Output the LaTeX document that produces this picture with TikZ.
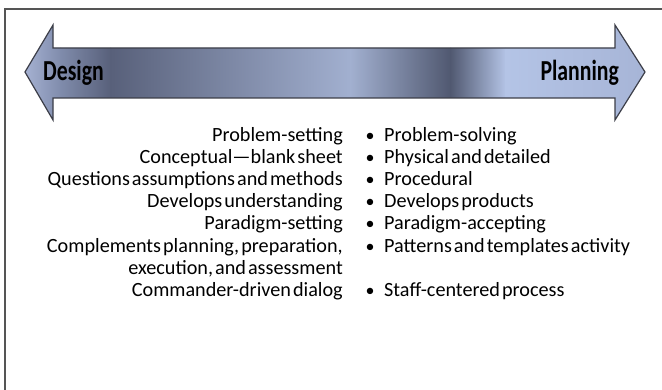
\documentclass[tikz,border=0pt]{standalone}
\usepackage{fontspec}
\setmainfont{Carlito}[WordSpace={0.45}]
\definecolor{cLight}{RGB}{170,182,215}
\definecolor{cMid}{RGB}{128,140,172}
\definecolor{cDark}{RGB}{88,96,122}
\definecolor{cLight2}{RGB}{162,176,208}
\definecolor{cDark2}{RGB}{80,88,112}
\definecolor{cLight3}{RGB}{180,196,230}
\definecolor{cEnd}{RGB}{166,180,214}
\definecolor{frameGray}{RGB}{85,85,85}
\definecolor{outlineGray}{RGB}{60,62,72}
\def\arrowpath{(25,72) -- (53,25) -- (53,48) -- (615,48) -- (615,25) -- (645,72) -- (615,120) -- (615,98) -- (53,98) -- (53,120) -- cycle}
\begin{document}
\begin{tikzpicture}[x=1pt,y=-1pt,
  frameline/.style={draw=frameGray, line width=2pt},
  outline/.style={draw=outlineGray, line width=1.2pt, line join=miter},
  endlabel/.style={font=\fontsize{29}{30}\selectfont\bfseries, text=black, inner sep=0pt, xscale=0.75, transform shape},
  lefttext/.style={font=\fontsize{20.2}{22}\selectfont, inner sep=0pt, anchor=mid east},
  righttext/.style={font=\fontsize{20.2}{22}\selectfont, inner sep=0pt, anchor=mid west},
  bul/.style={font=\fontsize{18}{22}\selectfont, inner sep=0pt, anchor=mid}]
\useasboundingbox (0,0) rectangle (662,390);
\fill[white] (0,0) rectangle (662,390);
\draw[frameline] (5,392) -- (5,9) -- (664,9);
% arrow with shading
\begin{scope}
  \clip \arrowpath;
  \shade[left color=cLight, right color=cMid] (20,20) rectangle (61,125);
  \shade[left color=cMid, right color=cDark] (60,20) rectangle (111,125);
  \shade[left color=cDark, right color=cLight2] (110,20) rectangle (351,125);
  \shade[left color=cLight2, right color=cDark2] (350,20) rectangle (451,125);
  \shade[left color=cDark2, right color=cLight3] (450,20) rectangle (506,125);
  \shade[left color=cLight3, right color=cEnd] (505,20) rectangle (650,125);
\end{scope}
\draw[outline] \arrowpath;
\node[endlabel, anchor=west] (design) at (43,73) {Design};
\node[endlabel, anchor=east] (planning) at (619,73) {Planning};
% rows
\node[lefttext] (l1) at (343,139) {Problem-setting};
\node[lefttext] (l2) at (343,161) {Conceptual—blank sheet};
\node[lefttext] (l3) at (343,183) {Questions assumptions and methods};
\node[lefttext] (l4) at (343,205) {Develops understanding};
\node[lefttext] (l5) at (343,227) {Paradigm-setting};
\node[lefttext] (l6) at (343,250) {Complements planning, preparation,};
\node[lefttext] (l6b) at (343,272) {execution, and assessment};
\node[lefttext] (l7) at (343,294) {Commander-driven dialog};
\node[bul] (b1) at (370,139) {•};
\node[bul] (b2) at (370,161) {•};
\node[bul] (b3) at (370,183) {•};
\node[bul] (b4) at (370,205) {•};
\node[bul] (b5) at (370,227) {•};
\node[bul] (b6) at (370,250) {•};
\node[bul] (b7) at (370,294) {•};
\node[righttext] (r1) at (384,139) {Problem-solving};
\node[righttext] (r2) at (384,161) {Physical and detailed};
\node[righttext] (r3) at (384,183) {Procedural};
\node[righttext] (r4) at (384,205) {Develops products};
\node[righttext] (r5) at (384,227) {Paradigm-accepting};
\node[righttext] (r6) at (384,250) {Patterns and templates activity};
\node[righttext] (r7) at (384,294) {Staff-centered process};
\end{tikzpicture}
\end{document}
